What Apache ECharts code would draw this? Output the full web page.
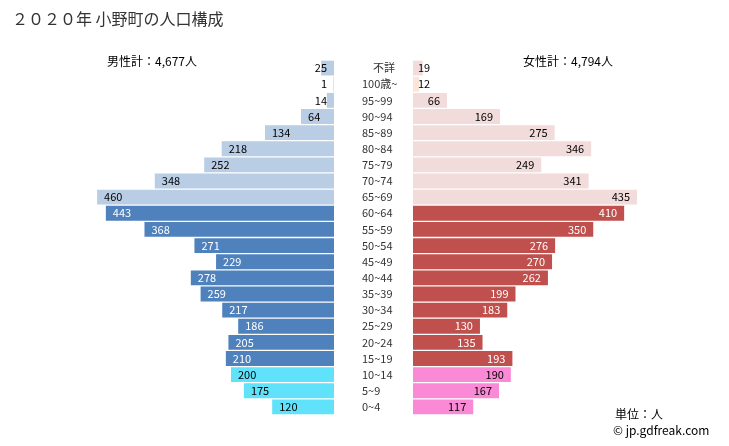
<!DOCTYPE html>
<html><head><meta charset="utf-8">
<script src="https://cdn.jsdelivr.net/npm/echarts@6/dist/echarts.min.js"></script>
<style>html,body{margin:0;padding:0;background:#fff}#c{width:729px;height:446px}</style>
</head><body><div id="c"></div>
<script>
const categories = ['不詳','100歳~','95~99','90~94','85~89','80~84','75~79','70~74','65~69','60~64','55~59','50~54','45~49','40~44','35~39','30~34','25~29','20~24','15~19','10~14','5~9','0~4'];
const male = [25,1,14,64,134,218,252,348,460,443,368,271,229,278,259,217,186,205,210,200,175,120];
const female = [19,12,66,169,275,346,249,341,435,410,350,276,270,262,199,183,130,135,193,190,167,117];
const titleText = '２０２０年 小野町の人口構成';
const maleTotal = '男性計：4,677人';
const femaleTotal = '女性計：4,794人';

const FONT = '"Noto Sans CJK JP", "Noto Sans", sans-serif';
function group(i){ if(i<=8) return 'old'; if(i<=18) return 'work'; return 'young'; }
const maleColors = {old:'#b9cde5', work:'#4f81bd', young:'#5fe2fa'};
const femaleColors = {old:'#f2dcdb', work:'#c0504d', young:'#fa8ad6'};

function maleItems(){
  return male.map((v,i)=>{
    const g = group(i);
    const small = v < 40;
    return {value:v, itemStyle:{color:maleColors[g]},
      label:{position: small?'insideRight':'insideLeft', distance: 7,
        color: g==='work'?'#fff':'#000'}};
  });
}
function femaleItems(){
  return female.map((v,i)=>{
    const g = group(i);
    const small = v < 40;
    let color = femaleColors[g];
    if(i===1) color = '#fce4d6';
    return {value:v, itemStyle:{color:color},
      label:{position: small?'insideLeft':'insideRight', distance: small?5:7,
        color: g==='work'?'#fff':'#000'}};
  });
}

const chart = echarts.init(document.getElementById('c'));
chart.setOption({
  animation:false,
  backgroundColor:'#fff',
  textStyle:{fontFamily:FONT},
  grid:[
    {left:76.5, width:257.5, top:60, height:355},
    {left:413, width:257.5, top:60, height:355}
  ],
  xAxis:[
    {gridIndex:0, type:'value', min:0, max:500, inverse:true, show:false},
    {gridIndex:1, type:'value', min:0, max:500, show:false}
  ],
  yAxis:[
    {gridIndex:0, type:'category', data:categories, inverse:true, show:false},
    {gridIndex:1, type:'category', data:categories, inverse:true,
      axisLine:{show:false}, axisTick:{show:false},
      axisLabel:{align:'left', margin:51, fontSize:11, color:'#333', fontFamily:FONT,
        formatter:(v)=> v==='不詳' ? '\u3000'+v : v}}
  ],
  series:[
    {type:'bar', xAxisIndex:0, yAxisIndex:0, data:maleItems(), barCategoryGap:'8%',
      label:{show:true, fontSize:11, fontFamily:FONT}},
    {type:'bar', xAxisIndex:1, yAxisIndex:1, data:femaleItems(), barCategoryGap:'8%',
      label:{show:true, fontSize:11, fontFamily:FONT}}
  ],
  graphic:[
    {type:'text', left:12, top:11, style:{text:titleText, font:'16px '+FONT, fill:'#333'}},
    {type:'text', left:107, top:55, style:{text:maleTotal, font:'12px '+FONT, fill:'#000'}},
    {type:'text', left:523, top:55, style:{text:femaleTotal, font:'12px '+FONT, fill:'#000'}},
    {type:'text', left:615, top:408, style:{text:'単位：人', font:'12px '+FONT, fill:'#000'}},
    {type:'text', left:613, top:424, style:{text:'© jp.gdfreak.com', font:'12px '+FONT, fill:'#000'}}
  ]
});
</script></body></html>
